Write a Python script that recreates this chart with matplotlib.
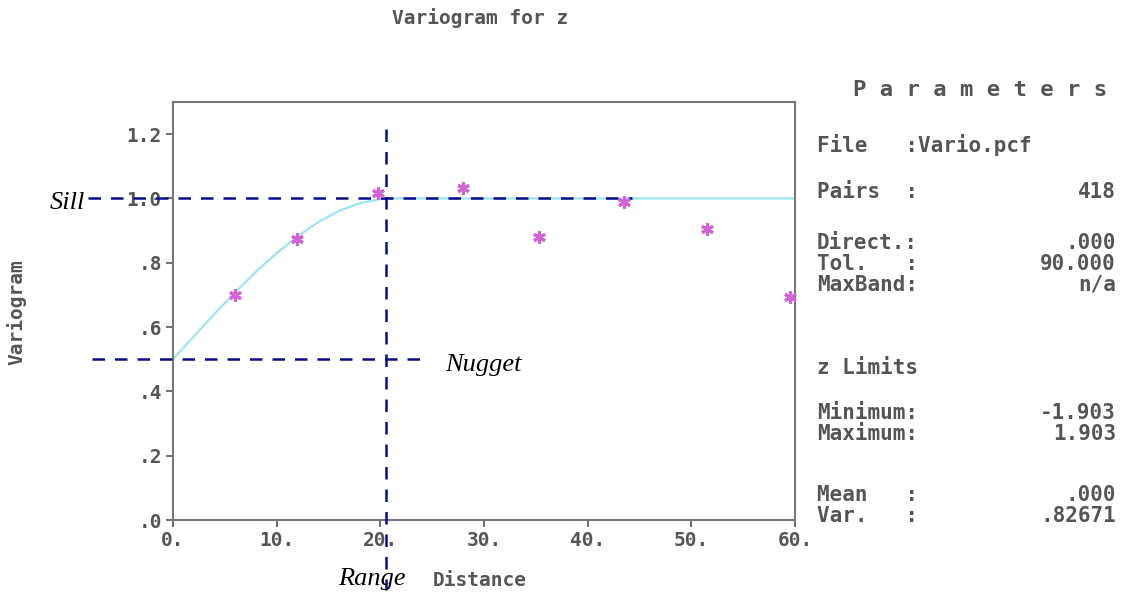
import matplotlib
matplotlib.use("Agg")
import matplotlib.pyplot as plt

# experimental variogram points (lag distance, gamma)
lag = [6.0, 12.0, 19.8, 28.0, 35.3, 43.5, 51.5, 59.5]
gamma = [0.70, 0.873, 1.016, 1.032, 0.879, 0.988, 0.904, 0.692]

# fitted model curve
model_x = [0, 2, 4, 6, 8, 10, 12, 14, 16, 18, 20, 21, 60]
model_y = [0.50, 0.571, 0.641, 0.708, 0.772, 0.830, 0.882, 0.926, 0.961, 0.985, 0.998, 1.0, 1.0]

nugget = 0.5
sill = 1.0
range_dist = 20.5

xticks = [0, 10, 20, 30, 40, 50, 60]
xticklabels = ["0.", "10.", "20.", "30.", "40.", "50.", "60."]
yticks = [0, 0.2, 0.4, 0.6, 0.8, 1.0, 1.2]
yticklabels = [".0", ".2", ".4", ".6", ".8", "1.0", "1.2"]

param_rows = [
    ("File   :Vario.pcf", "", 145),
    ("Pairs  :", "418", 192),
    ("Direct.:", ".000", 243),
    ("Tol.   :", "90.000", 264),
    ("MaxBand:", "n/a", 285),
    ("z Limits", "", 368),
    ("Minimum:", "-1.903", 413),
    ("Maximum:", "1.903", 434),
    ("Mean   :", ".000", 495),
    ("Var.   :", ".82671", 516),
]

W, H = 1123, 592
GRAY = "#555555"
MONO = "DejaVu Sans Mono"
SERIF = "Liberation Serif"


def fx(px):
    return px / W


def fy(py):
    return 1 - py / H


fig = plt.figure(figsize=(W / 100, H / 100), dpi=100)
ax = fig.add_axes([fx(173), fy(520), fx(795) - fx(173), fy(102) - fy(520)])

ax.plot(model_x, model_y, color="#9ee6ea", lw=1.6, zorder=2)
ax.plot(lag, gamma, linestyle="none", marker=(6, 2, 0), ms=9, mew=2.2,
        color="#d264d8", zorder=4, clip_on=False)

# annotation lines for sill, nugget, range
dash = dict(color="#0a0a8c", lw=1.8, ls=(0, (5, 4)), clip_on=False, zorder=3)
ax.plot([-8.2, 44.3], [sill, sill], **dash)
ax.plot([-7.8, 24.3], [nugget, nugget], **dash)
ax.plot([range_dist, range_dist], [1.216, -0.218], **dash)

ax.set_xlim(0, 60)
ax.set_ylim(0, 1.3)
ax.set_xticks(xticks)
ax.set_xticklabels(xticklabels)
ax.set_yticks(yticks)
ax.set_yticklabels(yticklabels)
ax.tick_params(direction="out", length=5, width=1.2, color=GRAY,
               labelcolor=GRAY, labelsize=14, pad=3)
for lab in ax.get_xticklabels() + ax.get_yticklabels():
    lab.set_fontfamily(MONO)
    lab.set_fontweight("bold")
for sp in ax.spines.values():
    sp.set_color("#777777")
    sp.set_linewidth(1.5)

fig.text(fx(480), fy(18), "Variogram for z", ha="center", va="center",
         family=MONO, weight="bold", color=GRAY, fontsize=14)
fig.text(fx(480), fy(581), "Distance", ha="center", va="center",
         family=MONO, weight="bold", color=GRAY, fontsize=14)
fig.text(fx(16), fy(312), "Variogram", ha="center", va="center", rotation=90,
         family=MONO, weight="bold", color=GRAY, fontsize=14)

fig.text(fx(50), fy(203), "Sill", ha="left", va="center", family=SERIF,
         style="italic", fontsize=19)
fig.text(fx(445), fy(365), "Nugget", ha="left", va="center", family=SERIF,
         style="italic", fontsize=19)
fig.text(fx(338), fy(579), "Range", ha="left", va="center", family=SERIF,
         style="italic", fontsize=19)

# parameter panel
fig.text(fx(980), fy(90), "P a r a m e t e r s", ha="center", va="center",
         family=MONO, weight="bold", color=GRAY, fontsize=16)
for label, value, ypx in param_rows:
    fig.text(fx(817), fy(ypx), label, ha="left", va="center",
             family=MONO, weight="bold", color=GRAY, fontsize=15)
    if value:
        fig.text(fx(1116), fy(ypx), value, ha="right", va="center",
                 family=MONO, weight="bold", color=GRAY, fontsize=15)

fig.savefig("out.png", dpi=100)
